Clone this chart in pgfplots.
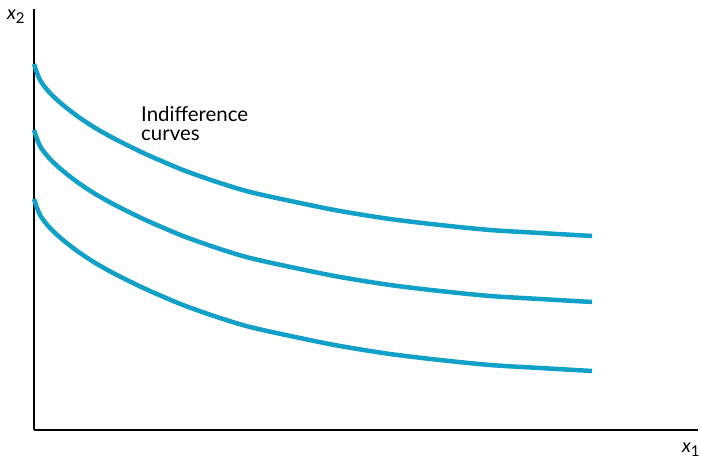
\documentclass[border=0pt]{standalone}
\usepackage{pgfplots}
\pgfplotsset{compat=1.18}
\usepackage{fontspec}
\setmainfont{Lato}
\definecolor{icblue}{RGB}{16,160,200}
\begin{document}
\begin{tikzpicture}
\begin{axis}[
  scale only axis,
  width=664bp, height=421bp,
  xmin=0, xmax=664, ymin=0, ymax=421,
  axis lines=left,
  axis line style={line width=2.8bp, -},
  xtick=\empty, ytick=\empty,
  clip=false,
]
% top curve
\addplot[icblue, line width=4.5bp, smooth] coordinates {
  (0,366) (6,350) (16,337) (29,325) (46,312) (63,301) (81,291)
  (99,282) (116,274) (149,260) (183,248) (216,238) (266,227) (306,219)
  (356,211) (406,205) (456,200) (506,197) (558,194)
};
% middle curve
\addplot[icblue, line width=4.5bp, smooth] coordinates {
  (0,300) (6,284) (16,271) (29,259) (46,246) (63,235) (81,225)
  (99,216) (116,208) (149,194) (183,182) (216,172) (266,161) (306,153)
  (356,145) (406,139) (456,134) (506,131) (558,128)
};
% bottom curve
\addplot[icblue, line width=4.5bp, smooth] coordinates {
  (0,231) (6,215) (16,202) (29,190) (46,177) (63,166) (81,156)
  (99,147) (116,139) (149,125) (183,113) (216,103) (266,92) (306,84)
  (356,76) (406,70) (456,65) (506,62) (558,59)
};
\node[anchor=base west, align=left, font=\fontsize{20.5}{19.5}\selectfont, inner sep=0pt]
  at (axis cs:107,289) {Indifference\\curves};
\node[anchor=base west, inner sep=0pt] at (axis cs:-27,410)
  {{\fontsize{19}{20}\selectfont\itshape x}{\fontsize{15}{16}\selectfont\raisebox{-4bp}{2}}};
\node[anchor=base west, inner sep=0pt] at (axis cs:648,-23)
  {{\fontsize{19}{20}\selectfont\itshape x}{\fontsize{15}{16}\selectfont\raisebox{-4bp}{1}}};
\coordinate (bl) at (axis cs:-34,-29);
\coordinate (tr) at (axis cs:667,430);
\end{axis}
\pgfresetboundingbox
\path[use as bounding box] (bl) rectangle (tr);
\end{tikzpicture}
\end{document}
